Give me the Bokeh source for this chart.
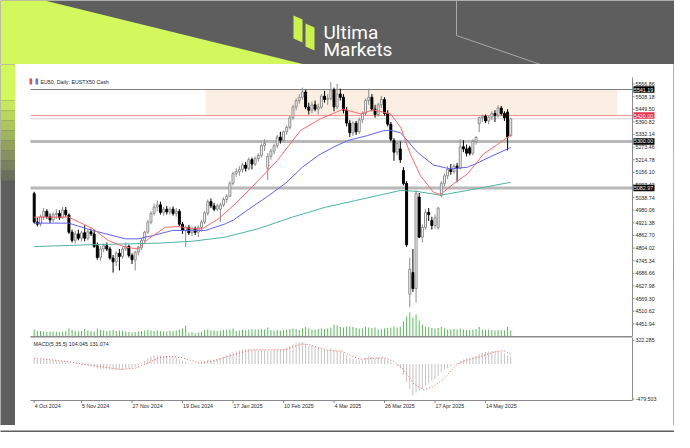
from bokeh.plotting import figure
from bokeh.layouts import column, row
from bokeh.models import Range1d, Label, BoxAnnotation, ColumnDataSource
from bokeh.core.properties import value
from bokeh.embed import file_html
from bokeh.resources import INLINE

# ---------------- data (daily bars, EU50) ----------------
opens = [5057, 4925, 4915, 4950, 4975, 4950, 4935, 4960, 4965, 4945, 4980, 4958, 4878, 4840, 4870, 4850,
         4875, 4850, 4880, 4870, 4815, 4760, 4800, 4815, 4800, 4758, 4740, 4780, 4765, 4800, 4812, 4770,
         4748, 4785, 4805, 4840, 4878, 4925, 4965, 4995, 5005, 4970, 4985, 4972, 4985, 4965, 4975, 4915,
         4885, 4900, 4875, 4895, 4878, 4900, 4925, 4966, 5020, 5000, 4985, 4985, 5005, 5030, 5045, 5105,
         5150, 5160, 5170, 5190, 5175, 5215, 5195, 5220, 5235, 5280, 5175, 5230, 5255, 5280, 5320, 5305,
         5345, 5365, 5410, 5460, 5490, 5505, 5530, 5460, 5445, 5470, 5450, 5460, 5510, 5495, 5500, 5540,
         5460, 5520, 5505, 5445, 5385, 5340, 5385, 5345, 5400, 5430, 5490, 5505, 5450, 5425, 5470, 5495,
         5430, 5380, 5305, 5250, 5265, 5165, 5105, 4590, 4690, 4616, 5041, 4855, 4900, 4970, 4932, 4909,
         4900, 5048, 5105, 5140, 5170, 5160, 5185, 5175, 5275, 5265, 5270, 5245, 5300, 5382, 5410, 5418,
         5395, 5412, 5430, 5420, 5455, 5430, 5436, 5327]
highs = [5066, 4945, 4960, 4990, 4985, 4965, 4970, 4985, 4980, 4995, 4995, 4965, 4890, 4885, 4890, 4885,
         4910, 4890, 4895, 4890, 4830, 4812, 4825, 4830, 4810, 4772, 4790, 4800, 4810, 4830, 4820, 4780,
         4790, 4815, 4850, 4885, 4935, 4975, 5010, 5025, 5020, 4995, 5000, 4995, 4998, 4990, 4985, 4925,
         4910, 4912, 4905, 4905, 4910, 4935, 4975, 5030, 5035, 5015, 5010, 5015, 5040, 5055, 5115, 5160,
         5175, 5185, 5200, 5205, 5225, 5225, 5230, 5245, 5290, 5310, 5245, 5265, 5290, 5330, 5345, 5350,
         5375, 5420, 5470, 5500, 5520, 5550, 5540, 5480, 5485, 5490, 5475, 5520, 5535, 5520, 5575, 5550,
         5568, 5545, 5520, 5460, 5400, 5395, 5395, 5410, 5440, 5500, 5545, 5520, 5470, 5480, 5512, 5505,
         5445, 5390, 5315, 5300, 5300, 5180, 5115, 4760, 4800, 5072, 5060, 4915, 4985, 4990, 4950, 4960,
         4995, 5115, 5150, 5185, 5195, 5195, 5200, 5310, 5305, 5285, 5280, 5310, 5325, 5415, 5425, 5425,
         5420, 5440, 5445, 5467, 5465, 5440, 5450, 5410]
lows = [4918, 4905, 4905, 4935, 4940, 4920, 4925, 4940, 4935, 4940, 4950, 4870, 4830, 4825, 4840, 4835,
        4835, 4840, 4860, 4805, 4750, 4745, 4785, 4790, 4750, 4690, 4720, 4700, 4755, 4790, 4760, 4730,
        4700, 4770, 4795, 4830, 4870, 4915, 4955, 4975, 4960, 4955, 4960, 4960, 4955, 4950, 4905, 4870,
        4810, 4865, 4860, 4865, 4855, 4880, 4915, 4955, 4990, 4975, 4975, 4925, 4995, 5015, 5040, 5095,
        5135, 5140, 5155, 5160, 5165, 5170, 5185, 5205, 5225, 5255, 5120, 5215, 5240, 5270, 5290, 5295,
        5330, 5355, 5400, 5445, 5475, 5495, 5450, 5425, 5430, 5440, 5425, 5450, 5480, 5470, 5490, 5440,
        5450, 5490, 5430, 5370, 5320, 5325, 5330, 5335, 5385, 5420, 5470, 5440, 5410, 5415, 5455, 5420,
        5370, 5300, 5210, 5235, 5200, 5095, 4810, 4529, 4600, 4551, 4850, 4830, 4890, 4930, 4890, 4895,
        4890, 5040, 5090, 5125, 5145, 5150, 5110, 5170, 5250, 5230, 5235, 5235, 5285, 5343, 5390, 5385,
        5380, 5400, 5390, 5410, 5420, 5395, 5258, 5320]
closes = [4925, 4915, 4950, 4975, 4950, 4935, 4960, 4965, 4945, 4980, 4960, 4878, 4840, 4870, 4850, 4875,
          4850, 4880, 4870, 4812, 4760, 4800, 4815, 4800, 4758, 4740, 4780, 4765, 4800, 4812, 4770, 4750,
          4785, 4808, 4840, 4878, 4925, 4965, 4995, 5005, 4970, 4985, 4972, 4985, 4965, 4975, 4915, 4885,
          4900, 4875, 4895, 4878, 4900, 4925, 4968, 5020, 5000, 4985, 5000, 5005, 5030, 5045, 5105, 5150,
          5160, 5170, 5190, 5175, 5215, 5195, 5220, 5235, 5280, 5290, 5230, 5255, 5280, 5320, 5305, 5345,
          5365, 5410, 5460, 5490, 5505, 5530, 5460, 5445, 5470, 5450, 5460, 5510, 5495, 5500, 5540, 5460,
          5520, 5505, 5445, 5385, 5340, 5385, 5345, 5400, 5430, 5490, 5505, 5450, 5425, 5470, 5495, 5430,
          5380, 5310, 5250, 5290, 5215, 5104, 4820, 4705, 4616, 5058, 4855, 4900, 4970, 4960, 4909, 4945,
          4990, 5105, 5140, 5170, 5160, 5185, 5175, 5275, 5265, 5245, 5245, 5300, 5318, 5410, 5418, 5395,
          5412, 5430, 5420, 5455, 5430, 5410, 5320, 5405]
volumes = [70, 55, 55, 50, 45, 50, 50, 48, 45, 50, 55, 80, 65, 55, 50, 55,
           75, 60, 55, 50, 80, 65, 60, 55, 60, 65, 55, 60, 55, 50, 45, 40, 45, 50,
           55, 60, 65, 60, 55, 60, 55, 50, 50, 55, 55, 60, 70, 80, 110, 40, 45, 35, 40, 45,
           65, 70, 60, 60, 55, 60, 65, 70, 70, 80, 55, 60, 65, 60, 70, 75, 70, 70, 75, 70, 90, 65, 60, 65, 60, 65,
           70, 75, 80, 75, 65, 80, 95, 80, 70, 70, 75, 80, 75, 80, 90, 120, 110, 95, 90, 100, 100, 95, 85, 80,
           80, 95, 90, 85, 90, 70, 75, 80,
           85, 90, 100, 90, 95, 150, 200, 240, 190, 220, 160, 120, 100, 95, 85, 80, 85, 95, 80, 70,
           70, 75, 70, 80, 70, 65, 65, 70, 75, 95, 70, 65, 70, 65, 60, 65, 65, 60, 95, 60]
macd_main = [70, 60, 60, 58, 55, 52, 50, 48, 42, 40, 38, 20, 5, 0, -5, -10,
             -15, -20, -25, -40, -60, -65, -65, -70, -80, -88, -85, -85, -80, -70, -65, -60, -40, -20,
             10, 40, 75, 100, 115, 120, 115, 110, 105, 100, 90, 80, 65,
             45, 30, 15, 10, 5, 10, 20,
             40, 55, 60, 60, 65, 80, 100, 120, 140, 160,
             175, 190, 200, 205, 205, 200, 195, 190, 195, 200, 185, 185, 195, 200, 200, 205,
             225, 250, 275, 290, 300, 300, 275, 250,
             250, 235, 220, 200, 190, 185, 215, 190, 185, 175, 155, 120, 85, 70, 55, 50, 60, 85, 105, 100,
             90, 90, 95, 75,
             55, 30, 0, -25, -60, -150, -250, -340, -430, -390, -365, -340, -300, -265, -235, -210,
             -160, -110, -80, -60, -30, -5, 15, 45, 60, 70, 80, 95, 110, 140, 155, 165, 172, 178, 180, 175,
             165, 145, 115, 104]
signal_bar = [0, 7.8, 13.1, 18.4, 23.6, 27.9, 32.1, 35.3, 39.5, 42.7, 46.9, 52.2, 56.4, 60.6, 64.8,
              69.1, 75.4, 79.6, 81.7, 84.9, 87, 90.2, 93.3, 97.6, 100.2, 103.4, 107.6, 110.8, 113.9,
              117.1, 120.3, 123.4, 126.6, 129.8, 134, 137.2, 141.4, 145.6, 148.8, 151]
signal_val = [79, 48, 16, -21, -52, -75, -57, 0, 85, 107, 85, 16, 38, 93, 148,
              195, 195, 195, 230, 276, 267, 222, 185, 176, 116, 66, 79, 85, 38,
              -80, -272, -353, -308, -203, 0, 57, 103, 162, 185, 131]
ma_fast_bar = [0, 10.9, 18.5, 23.5, 28.9, 33, 36.2, 41.6, 45.7, 50.2, 53.3, 58.4, 63, 68.5, 77, 84.4,
               90.7, 98, 103.4, 107.5, 112.9, 116.1, 119.2, 122.4, 126.5, 128.7, 132.9, 137.3, 142.4,
               147.8, 151]
ma_fast_val = [4948, 4948, 4895, 4839, 4808, 4800, 4847, 4901, 4904, 4894, 4894, 4940, 5000, 5080, 5211,
               5351, 5405, 5450, 5428, 5447, 5428, 5366, 5240, 5140, 5064, 5053, 5103, 5149, 5242,
               5296, 5330]
ma_mid_bar = [0, 10.9, 18.5, 28.9, 33, 37.5, 43.8, 50.2, 54.3, 60.6, 63.2, 67, 74, 79.6, 85, 90, 94.8,
              99.3, 105.6, 110.7, 113, 116.1, 121.4, 126.5, 131.9, 137.3, 140.5, 144.5, 151]
ma_mid_val = [4920, 4920, 4886, 4847, 4847, 4862, 4886, 4886, 4886, 4917, 4935, 4975, 5045, 5105, 5180,
              5235, 5273, 5304, 5327, 5350, 5352, 5340, 5250, 5190, 5172, 5180, 5200, 5228, 5272]
ma_slow_bar = [0, 18.5, 39.4, 50.2, 60.6, 71, 81.8, 92.3, 101.8, 116.1, 121, 128.7, 137.3, 151]
ma_slow_val = [4811, 4820, 4827, 4836, 4855, 4894, 4948, 4994, 5025, 5072, 5068, 5050, 5072, 5110]

price_ticks = [5566.86, 5508.18, 5449.50, 5390.82, 5332.14, 5273.46, 5214.78, 5156.10, 5097.42, 5038.74,
               4980.06, 4921.38, 4862.70, 4804.02, 4745.34, 4686.66, 4627.98, 4569.30, 4510.62, 4451.94]
macd_ticks = [322.285, -479.503]
date_ticks = [0, 15, 31, 47, 63, 79, 95, 111, 127, 143]
date_labels = ["4 Oct 2024", "5 Nov 2024", "27 Nov 2024", "19 Dec 2024", "17 Jan 2025",
               "10 Feb 2025", "4 Mar 2025", "26 Mar 2025", "17 Apr 2025", "14 May 2025"]
resistance = 5541.19
pivot = 5420.00
support_1 = 5300.00
support_2 = 5082.97
zone_bars = [54.3, 184.8]
title_text = "EU50, Daily:  EUSTX50 Cash"
macd_text = "MACD(5,35,5) 104.045 131.074"

# ---------------- style / geometry ----------------
GREY = "#5e5e5e"
LIME = "#d3f85e"
INK = "#262626"
AXC = "#8a8a8a"
FONT = "Liberation Sans"
SMALL = "5.3px"

X0, X1 = -5.925, 202.57          # bar-index range across the white card
XS, XE = -1.172, 189.57          # plotted chart area
PY0, PY1 = 4388.34, 5657.52      # price range across the price panel
CB, CT = 4392.99, 5597.08        # price chart area
MY0, MY1 = -842.7, 363.4         # MACD range across the MACD panel
MB, MT = -500.1, 363.4           # MACD chart area
CW = 658
PXB = (X1 - X0) / CW
PXM = (MY1 - MY0) / 88


def blend(c1, c2, t):
    a = [int(c1[i:i + 2], 16) for i in (1, 3, 5)]
    b = [int(c2[i:i + 2], 16) for i in (1, 3, 5)]
    return "#%02x%02x%02x" % tuple(round(a[k] + (b[k] - a[k]) * t) for k in range(3))


def bare(w, h, xr, yr, bg):
    f = figure(width=w, height=h, x_range=xr, y_range=yr, toolbar_location=None,
               output_backend="svg", min_border=0, x_axis_location=None, y_axis_location=None)
    f.grid.visible = False
    f.outline_line_color = None
    f.background_fill_color = bg
    f.border_fill_color = bg
    return f


# ---------------- header / frame decoration ----------------
hdr = bare(674, 64, Range1d(0, 674), Range1d(64, 0), GREY)
hdr.patch([0, 44, 304, 0], [0, 0, 64, 64], fill_color=LIME, line_color=None)
hdr.line([456, 456, 540], [0, 35, 64], line_color="#a8a8a8", line_width=1)
hdr.patch([293, 302, 302, 293], [15, 19, 42, 38], fill_color="#c9f24f", line_color=None)
hdr.patch([305, 314, 314, 305], [23, 27, 50, 46], fill_color="#c9f24f", line_color=None)
hdr.text(x=[323, 323], y=[31.7, 49.3], text=["Ultima", "Markets"], text_font=value("Roboto"),
         text_font_size="19px", text_color="white", text_baseline="alphabetic", text_align="left")

lft = bare(15, 361, Range1d(0, 15), Range1d(425, 64), GREY)
lft.quad(left=0, right=15, top=64, bottom=100, fill_color=LIME, line_color=None)
for k in range(8):
    lft.quad(left=0, right=15, top=100 + 10 * k, bottom=110 + 10 * k,
             fill_color=blend(LIME, GREY, (k + 1) / 9), line_color=None)

rgt = bare(1, 361, Range1d(673, 674), Range1d(425, 64), GREY)
rgt.quad(left=673, right=674, top=152, bottom=200, fill_color=LIME, line_color=None)
for k in range(10):
    rgt.quad(left=673, right=674, top=200 + 8 * k, bottom=208 + 8 * k,
             fill_color=blend(LIME, GREY, (k + 1) / 11), line_color=None)

bot = bare(674, 7, Range1d(0, 674), Range1d(432, 425), GREY)

# ---------------- price panel ----------------
N = len(closes)
bars = list(range(N))

price = bare(CW, 273, Range1d(X0, X1), Range1d(PY0, PY1), "white")
price.extra_y_ranges = {"vol": Range1d(-10, 2720)}

price.add_layout(BoxAnnotation(left=zone_bars[0], right=zone_bars[1], bottom=pivot, top=resistance,
                               fill_color="#fbeee3", fill_alpha=1, line_color=None, level="underlay"))
levels = [resistance, pivot, closes[-1], support_1, support_2]
price.segment(x0=[XS] * 5, y0=levels, x1=[XE] * 5, y1=levels,
              line_color=["#7c7c7c", "#f08c8c", "#d2d2d2", "#b8b8b8", "#b8b8b8"],
              line_width=[1, 1, 1, 3, 3])

price.segment(x0=bars, y0=[0] * N, x1=bars, y1=volumes, y_range_name="vol",
              line_color="#5cb85c", line_width=1)

up = [c >= o for o, c in zip(opens, closes)]
src = ColumnDataSource(dict(
    x=bars, high=highs, low=lows,
    top=[max(o, c) for o, c in zip(opens, closes)],
    bottom=[min(o, c) for o, c in zip(opens, closes)],
    fill=["white" if u else "black" for u in up],
    edge=["#8c8c8c" if u else "black" for u in up]))
price.segment(x0="x", y0="low", x1="x", y1="high", line_color="edge", line_width=1, source=src)
price.vbar(x="x", top="top", bottom="bottom", width=0.62, fill_color="fill", line_color="edge",
           line_width=1, source=src)

price.line(ma_slow_bar, ma_slow_val, line_color="#4fb3a3", line_width=1)
price.line(ma_mid_bar, ma_mid_val, line_color="#6262f0", line_width=1)
price.line(ma_fast_bar, ma_fast_val, line_color="#ff6a6a", line_width=1)

# chart separator and right price scale
price.segment(x0=[XS], y0=[CB], x1=[XE], y1=[CB], line_color=AXC, line_width=1)
price.segment(x0=[XE], y0=[CB], x1=[XE], y1=[CT], line_color=AXC, line_width=1)
nt = len(price_ticks)
price.segment(x0=[XE] * nt, y0=price_ticks, x1=[XE + 2 * PXB] * nt, y1=price_ticks,
              line_color=AXC, line_width=1)
price.text(x=[XE] * nt, y=price_ticks, text=["%.2f" % t for t in price_ticks], x_offset=3,
           text_font=value(FONT), text_font_size=SMALL, text_color=INK,
           text_baseline="middle", text_align="left")

box_levels = [resistance, pivot, support_1, support_2]
price.rect(x=[XE + 11.5 * PXB] * 4, y=box_levels, width=21, height=6.5,
           width_units="screen", height_units="screen",
           fill_color=["black", "#e5304a", "black", "black"], line_color=None)
price.text(x=[XE] * 4, y=box_levels, text=["%.2f" % v for v in box_levels], x_offset=1.5,
           text_font=value(FONT), text_font_size=SMALL, text_color="white",
           text_baseline="middle", text_align="left")

price.add_layout(Label(x=25, y=256, x_units="screen", y_units="screen", text=title_text,
                       text_font=FONT, text_font_size=SMALL, text_color=INK, text_baseline="middle"))
price.add_layout(Label(x=14, y=256, x_units="screen", y_units="screen", text="\u2002",
                       text_font_size=SMALL, background_fill_color="#d9534f", text_baseline="middle"))
price.add_layout(Label(x=20, y=256, x_units="screen", y_units="screen", text="\u2002",
                       text_font_size=SMALL, background_fill_color="#5b7fd6", text_baseline="middle"))

# ---------------- MACD panel ----------------
macd = bare(CW, 88, price.x_range, Range1d(MY0, MY1), "white")
macd.segment(x0=[XS], y0=[MT], x1=[XE], y1=[MT], line_color=AXC, line_width=1)
macd.segment(x0=bars, y0=[0] * N, x1=bars, y1=macd_main, line_color="#c4c4c4", line_width=1)
macd.line(signal_bar, signal_val, line_color="#f25a5a", line_width=1, line_dash="1 2")

macd.segment(x0=[XE], y0=[MB], x1=[XE], y1=[MT], line_color=AXC, line_width=1)
macd.segment(x0=[XE] * 2, y0=macd_ticks, x1=[XE + 2 * PXB] * 2, y1=macd_ticks,
             line_color=AXC, line_width=1)
macd.text(x=[XE] * 2, y=macd_ticks, text=["%.3f" % t for t in macd_ticks], x_offset=3,
          text_font=value(FONT), text_font_size=SMALL, text_color=INK,
          text_baseline="middle", text_align="left")

nd = len(date_ticks)
macd.segment(x0=[XS], y0=[MB], x1=[XE], y1=[MB], line_color=AXC, line_width=1)
macd.segment(x0=date_ticks, y0=[MB] * nd, x1=date_ticks, y1=[MB - 2.5 * PXM] * nd,
             line_color=AXC, line_width=1)
macd.text(x=date_ticks, y=[MB] * nd, text=date_labels, x_offset=0.5, y_offset=2.5,
          text_font=value(FONT), text_font_size=SMALL, text_color=INK,
          text_baseline="top", text_align="left")

macd.add_layout(Label(x=18, y=82, x_units="screen", y_units="screen", text=macd_text,
                      text_font=FONT, text_font_size=SMALL, text_color=INK, text_baseline="middle"))

layout = column(hdr, row(lft, column(price, macd), rgt), bot)
open("out.html", "w").write(file_html(layout, INLINE))
